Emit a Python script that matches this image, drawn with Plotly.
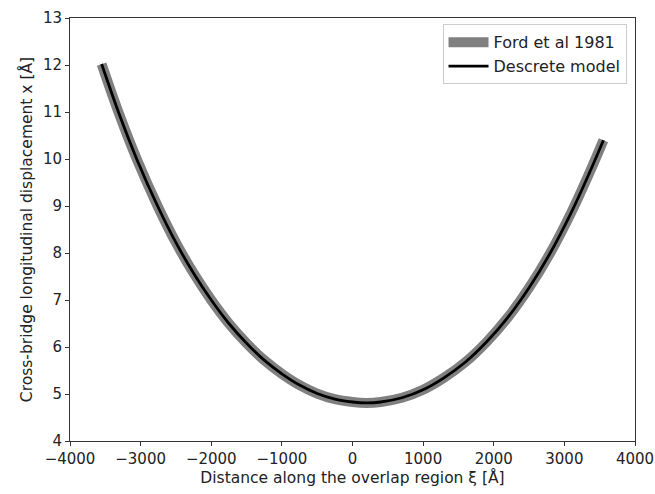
import plotly.graph_objects as go

# Data
xi_ford = [-3552, -3300, -3050, -2760, -2500, -2250, -2000, -1750, -1500, -1250,
           -1000, -750, -500, -250, 0, 200, 400, 700, 1000, 1300, 1600, 1900,
           2200, 2500, 2800, 3100, 3350, 3553]
x_ford = [12.02, 10.94, 9.98, 9.0, 8.22, 7.57, 7.0, 6.5, 6.08, 5.72,
          5.43, 5.19, 5.01, 4.89, 4.83, 4.81, 4.83, 4.92, 5.09, 5.35, 5.68, 6.11,
          6.63, 7.26, 8.0, 8.87, 9.69, 10.4]

xi_model = list(xi_ford)
x_model = list(x_ford)

x_ticks = [-4000, -3000, -2000, -1000, 0, 1000, 2000, 3000, 4000]
y_ticks = [4, 5, 6, 7, 8, 9, 10, 11, 12, 13]

font = "DejaVu Sans"

fig = go.Figure()
fig.add_trace(go.Scatter(
    x=xi_ford, y=x_ford, mode="lines", name="Ford et al 1981",
    line=dict(color="#808080", width=10, shape="spline", smoothing=1.0),
))
fig.add_trace(go.Scatter(
    x=xi_model, y=x_model, mode="lines", name="Descrete model",
    line=dict(color="#000000", width=2.8, shape="spline", smoothing=1.0),
))

axis_common = dict(
    showgrid=False, zeroline=False, showline=True, linecolor="#333333",
    linewidth=1, mirror=True, ticks="outside", ticklen=4, tickwidth=1,
    tickcolor="#333333", tickfont=dict(family=font, size=15, color="#222222"),
    automargin=False, ticklabeloverflow="allow",
)

fig.update_layout(
    width=655, height=494,
    margin=dict(l=70, r=20, t=18, b=53),
    paper_bgcolor="white", plot_bgcolor="white",
    font=dict(family=font, size=15, color="#222222"),
    xaxis=dict(range=[-4000, 4000], tickvals=x_ticks,
               title=dict(text="Distance along the overlap region ξ [Å]",
                          font=dict(family=font, size=15.5), standoff=4),
               **axis_common),
    yaxis=dict(range=[4, 13], tickvals=y_ticks,
               title=dict(text="Cross-bridge longitudinal displacement x [Å]",
                          font=dict(family=font, size=15.5), standoff=6),
               **axis_common),
    legend=dict(x=0.985, y=0.985, xanchor="right", yanchor="top",
                bgcolor="rgba(255,255,255,0.8)", bordercolor="#cccccc",
                borderwidth=1, font=dict(family=font, size=16, color="#222222"),
                itemwidth=40),
    showlegend=True,
)

fig.write_html("out.html")
